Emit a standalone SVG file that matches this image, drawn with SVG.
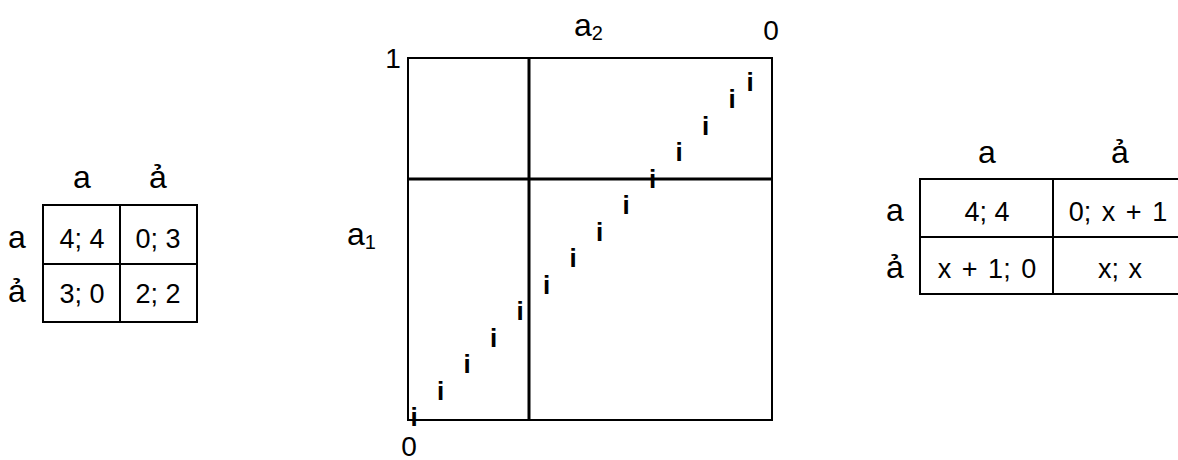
<svg xmlns="http://www.w3.org/2000/svg" width="1178" height="460" viewBox="0 0 1178 460">
<style>
text{font-family:"Liberation Sans",Arial,sans-serif;fill:#000}
.c{font-size:27px;text-anchor:middle}
.l{font-size:32px;text-anchor:middle}
.ax{font-size:28px;text-anchor:middle}
.i{font-size:26px;font-weight:bold;text-anchor:middle}
.g{fill:none;stroke:#000;stroke-width:2}
.t{fill:none;stroke:#000;stroke-width:3}
</style>
<rect width="1178" height="460" fill="#fff"/>
<g id="left-table">
<rect class="g" x="43" y="205" width="154" height="117"/>
<line class="g" x1="120" y1="205" x2="120" y2="322"/>
<line class="g" x1="43" y1="264" x2="197" y2="264"/>
<text class="l" x="82" y="188">a</text>
<text class="l" x="158" y="188">ả</text>
<text class="l" x="17" y="248">a</text>
<text class="l" x="17" y="302">ả</text>
<text class="c" x="82" y="248">4; 4</text>
<text class="c" x="158" y="248">0; 3</text>
<text class="c" x="82" y="303">3; 0</text>
<text class="c" x="158" y="303">2; 2</text>
</g>
<g id="chart">
<rect class="g" x="408" y="58" width="364" height="362" stroke-width="2.5"/>
<line class="t" x1="529" y1="58" x2="529" y2="420"/>
<line class="t" x1="408" y1="179" x2="772" y2="179"/>
<text class="ax" x="393" y="68">1</text>
<text class="ax" x="771" y="40">0</text>
<text class="ax" x="409" y="456">0</text>
<text font-size="32" x="574" y="36">a<tspan font-size="20" dy="4">2</tspan></text>
<text font-size="32" x="347" y="245">a<tspan font-size="20" dy="4">1</tspan></text>
<g id="points">
<text class="i" x="414" y="426">i</text>
<text class="i" x="440.5" y="399.5">i</text>
<text class="i" x="467" y="373">i</text>
<text class="i" x="493.5" y="346.5">i</text>
<text class="i" x="520" y="320">i</text>
<text class="i" x="546.5" y="293.5">i</text>
<text class="i" x="573" y="267">i</text>
<text class="i" x="599.5" y="240.5">i</text>
<text class="i" x="626" y="214">i</text>
<text class="i" x="652.5" y="187.5">i</text>
<text class="i" x="679" y="161">i</text>
<text class="i" x="705.5" y="134.5">i</text>
<text class="i" x="732" y="108">i</text>
<text class="i" x="750" y="91">i</text>
</g>
</g>
<g id="right-table">
<rect class="g" x="920" y="179" width="266" height="115"/>
<line class="g" x1="1053" y1="179" x2="1053" y2="294"/>
<line class="g" x1="920" y1="237" x2="1186" y2="237"/>
<text class="l" x="987" y="163">a</text>
<text class="l" x="1120" y="163">ả</text>
<text class="l" x="895" y="221">a</text>
<text class="l" x="895" y="278">ả</text>
<text class="c" x="987" y="221">4; 4</text>
<text class="c" x="1118" y="221" word-spacing="3">0; x + 1</text>
<text class="c" x="987" y="278" word-spacing="3">x + 1; 0</text>
<text class="c" x="1120" y="278" word-spacing="2">x; x</text>
</g>
</svg>
